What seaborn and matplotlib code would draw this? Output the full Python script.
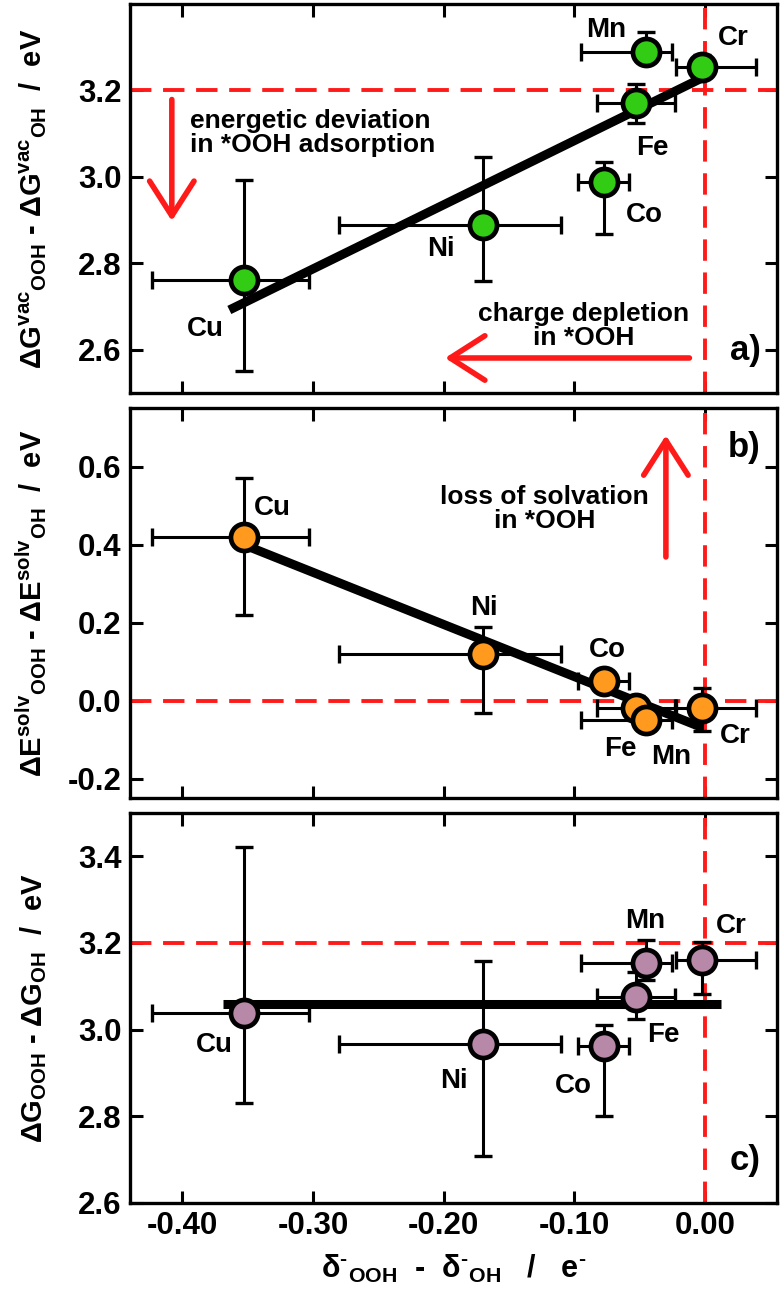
import numpy as np
import pandas as pd
import seaborn as sns
import matplotlib
matplotlib.use('Agg')
import matplotlib.pyplot as plt

# metals and charge difference (x), shared by all three panels
metals = ['Cu', 'Ni', 'Co', 'Fe', 'Mn', 'Cr']
charge_diff = [-0.353, -0.170, -0.077, -0.053, -0.045, -0.002]
charge_err_lo = [0.070, 0.110, 0.020, 0.030, 0.050, 0.020]
charge_err_hi = [0.050, 0.060, 0.019, 0.030, 0.020, 0.041]

# a) vacuum adsorption free energy difference
dg_vac = [2.762, 2.889, 2.988, 3.172, 3.289, 3.255]
dg_vac_lo = [0.210, 0.130, 0.120, 0.047, 0.008, 0.020]
dg_vac_hi = [0.230, 0.157, 0.047, 0.043, 0.046, 0.028]

# b) solvation energy difference
de_solv = [0.419, 0.120, 0.051, -0.019, -0.051, -0.019]
de_solv_lo = [0.199, 0.152, 0.020, 0.030, 0.020, 0.060]
de_solv_hi = [0.152, 0.068, 0.020, 0.030, 0.020, 0.050]

# c) total free energy difference
dg_tot = [3.039, 2.968, 2.962, 3.075, 3.155, 3.160]
dg_tot_lo = [0.208, 0.260, 0.162, 0.050, 0.041, 0.077]
dg_tot_hi = [0.383, 0.190, 0.048, 0.058, 0.051, 0.042]

sns.set_theme(style='ticks')
plt.rcParams['font.family'] = ['Liberation Sans', 'DejaVu Sans']
plt.rcParams['font.weight'] = 'bold'
plt.rcParams['mathtext.fontset'] = 'custom'
plt.rcParams['mathtext.rm'] = 'Liberation Sans:bold'
plt.rcParams['mathtext.bf'] = 'Liberation Sans:bold'
plt.rcParams['mathtext.it'] = 'Liberation Sans:bold'
plt.rcParams['mathtext.default'] = 'bf'
for key in ['text.color', 'axes.labelcolor', 'xtick.color', 'ytick.color', 'axes.edgecolor']:
    plt.rcParams[key] = 'black'

RED = '#ff1a1a'

fig = plt.figure(figsize=(7.84, 13.0), dpi=100)
left, width = 130 / 784, 647 / 784
ax_a = fig.add_axes([left, 1 - 393 / 1300, width, 389 / 1300])
ax_b = fig.add_axes([left, 1 - 798 / 1300, width, 390 / 1300])
ax_c = fig.add_axes([left, 1 - 1203 / 1300, width, 390 / 1300])

panels = [
    dict(ax=ax_a, y=dg_vac, lo=dg_vac_lo, hi=dg_vac_hi, color='#33cc14', ylim=(2.5, 3.4),
         yticks=[2.6, 2.8, 3.0, 3.2], href=3.2, fit='linear', pad=(0.011, 0.004), tag='a)',
         ylabel=r'$\Delta G^{vac}{}_{OOH}$ - $\Delta G^{vac}{}_{OH}$  /  eV',
         offs={'Cu': (-38, -49), 'Ni': (-42, -24), 'Co': (40, -33), 'Fe': (17, -45),
               'Mn': (-40, 22), 'Cr': (31, 29)}),
    dict(ax=ax_b, y=de_solv, lo=de_solv_lo, hi=de_solv_hi, color='#ff9a1f', ylim=(-0.25, 0.75),
         yticks=[-0.2, 0.0, 0.2, 0.4, 0.6], href=0.0, fit='linear', pad=(0.0, 0.0), tag='b)',
         ylabel=r'$\Delta E^{solv}{}_{OOH}$ - $\Delta E^{solv}{}_{OH}$  /  eV',
         offs={'Cu': (29, 29), 'Ni': (1, 46), 'Co': (3, 31), 'Fe': (-15, -41),
               'Mn': (25, -37), 'Cr': (33, -28)}),
    dict(ax=ax_c, y=dg_tot, lo=dg_tot_lo, hi=dg_tot_hi, color='#b888a8', ylim=(2.6, 3.5),
         yticks=[2.6, 2.8, 3.0, 3.2, 3.4], href=3.2, fit='mean', pad=(0.016, 0.014), tag='c)',
         ylabel=r'$\Delta G_{OOH}$ - $\Delta G_{OH}$  /  eV',
         offs={'Cu': (-29, -32), 'Ni': (-29, -37), 'Co': (-31, -40), 'Fe': (28, -38),
               'Mn': (-1, 42), 'Cr': (29, 34)}),
]

x = np.array(charge_diff)
for p in panels:
    ax = p['ax']
    y = np.array(p['y'])
    df = pd.DataFrame({'x': x, 'y': y, 'metal': metals})

    ax.axhline(p['href'], color=RED, lw=2.8, dashes=(5.5, 3), zorder=1)
    ax.axvline(0.0, color=RED, lw=2.8, dashes=(5.5, 3), zorder=1)

    ax.errorbar(x, y, xerr=[charge_err_lo, charge_err_hi], yerr=[p['lo'], p['hi']],
                fmt='none', ecolor='black', elinewidth=2.2, capsize=6.5, capthick=2.4, zorder=2)

    # fitted trend line
    xl = np.array([x.min() - p['pad'][0], x.max() + p['pad'][1]])
    if p['fit'] == 'linear':
        k, b0 = np.polyfit(x, y, 1)
        yl = k * xl + b0
    else:
        yl = np.full_like(xl, y.mean())
    sns.lineplot(x=xl, y=yl, ax=ax, color='black', lw=6.5, zorder=3, solid_capstyle='butt')

    sns.scatterplot(data=df, x='x', y='y', ax=ax, s=380, color=p['color'],
                    edgecolor='black', linewidth=3.4, zorder=4, legend=False)

    for m, xv, yv in zip(metals, x, y):
        ax.annotate(m, (xv, yv), xytext=p['offs'][m], textcoords='offset pixels',
                    ha='center', va='center', fontsize=20, fontweight='bold', zorder=5)

    ax.text(0.975, 0.11 if p['tag'] != 'b)' else 0.9, p['tag'], transform=ax.transAxes,
            ha='right', va='center', fontsize=25, fontweight='bold')

    ax.set_xlim(-0.44, 0.055)
    ax.set_ylim(*p['ylim'])
    ax.set_xticks([-0.40, -0.30, -0.20, -0.10, 0.00])
    ax.set_yticks(p['yticks'])
    ax.set_yticklabels([f'{v:.1f}' for v in p['yticks']])
    ax.tick_params(direction='in', length=9, width=2.2, top=True, right=True,
                   labelsize=22.5, pad=6)
    for s in ax.spines.values():
        s.set_linewidth(2.4)
    ax.set_xlabel('')
    ax.set_ylabel(p['ylabel'], fontsize=21, fontweight='bold')
    ax.yaxis.set_label_coords(-0.125, 0.5)
    if ax is not ax_c:
        ax.tick_params(labelbottom=False)

ax_c.set_xticklabels(['-0.40', '-0.30', '-0.20', '-0.10', '0.00'])
ax_c.set_xlabel(r'$\delta^{\text{-}}{}_{OOH}$  -  $\delta^{\text{-}}{}_{OH}$   /   e$^{\text{-}}$',
                fontsize=22, fontweight='bold', labelpad=8)

arrow = dict(arrowstyle='->,head_length=1.25,head_width=0.8', color=RED, lw=4,
             mutation_scale=20, shrinkA=0, shrinkB=0)

# panel a annotations
ax_a.annotate('', xy=(-0.408, 2.898), xytext=(-0.408, 3.179), arrowprops=arrow)
ax_a.text(-0.394, 3.102, 'energetic deviation\nin *OOH adsorption', ha='left', va='center',
          fontsize=19, fontweight='bold', linespacing=1.0)
ax_a.annotate('', xy=(-0.199, 2.581), xytext=(-0.012, 2.581), arrowprops=arrow)
ax_a.text(-0.093, 2.654, 'charge depletion\nin *OOH', ha='center', va='center',
          fontsize=19, fontweight='bold', linespacing=1.0)

# panel b annotations
ax_b.annotate('', xy=(-0.030, 0.680), xytext=(-0.030, 0.368), arrowprops=arrow)
ax_b.text(-0.123, 0.490, 'loss of solvation\nin *OOH', ha='center', va='center',
          fontsize=19, fontweight='bold', linespacing=1.0)

fig.savefig('out.png', dpi=100)
